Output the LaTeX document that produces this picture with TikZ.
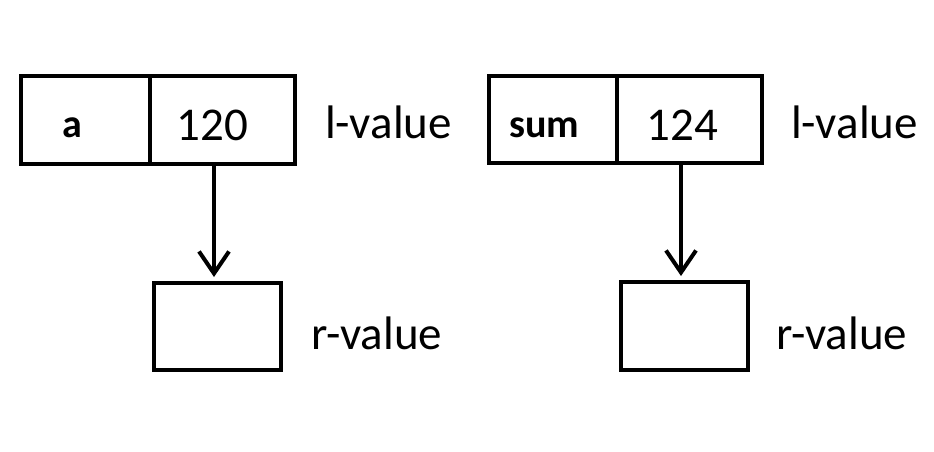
\documentclass[tikz,border=0pt]{standalone}
\usepackage{fontspec}
\setmainfont{Carlito}
\usetikzlibrary{arrows.meta}
\begin{document}
\begin{tikzpicture}[x=1pt,y=-1pt,
  cell/.style={draw=black,line width=4pt,rectangle,inner sep=0pt},
  txt/.style={inner sep=0pt,font=\fontsize{47}{52}\selectfont},
  btxt/.style={inner sep=0pt,font=\fontsize{40}{46}\selectfont\bfseries},
  arr/.style={line width=4pt,-{Straight Barb[length=22pt,width=30pt,line width=4pt]}}]
\useasboundingbox[fill=white] (0,0) rectangle (934,451);
% left group
\node[cell,minimum width=129pt,minimum height=88pt] (nameA) at (85.5,120) {};
\node[cell,minimum width=145pt,minimum height=88pt] (valA) at (222.5,120) {};
\node[cell,minimum width=127pt,minimum height=87pt] (rA) at (217.5,326.5) {};
\node[btxt,anchor=base] (ta) at (72,137) {a};
\node[txt,anchor=base] (t120) at (212.5,140) {120};
\node[txt,anchor=base west] (lA) at (325,138) {l-value};
\node[txt,anchor=base west] (rvA) at (311,349) {r-value};
\draw[arr,shorten >=4pt] ([xshift=-8.5pt]valA.south) -- ([xshift=-3.5pt]rA.north);
% right group
\node[cell,minimum width=128pt,minimum height=87pt] (nameB) at (553,119.5) {};
\node[cell,minimum width=145pt,minimum height=87pt] (valB) at (689.5,119.5) {};
\node[cell,minimum width=127pt,minimum height=88pt] (rB) at (684.5,326) {};
\node[btxt,anchor=base] (tsum) at (544.5,137) {sum};
\node[txt,anchor=base] (t124) at (682.5,140) {124};
\node[txt,anchor=base west] (lB) at (791,138) {l-value};
\node[txt,anchor=base west] (rvB) at (776,349) {r-value};
\draw[arr,shorten >=4pt] ([xshift=-8.5pt]valB.south) -- ([xshift=-3.5pt]rB.north);
\end{tikzpicture}
\end{document}
